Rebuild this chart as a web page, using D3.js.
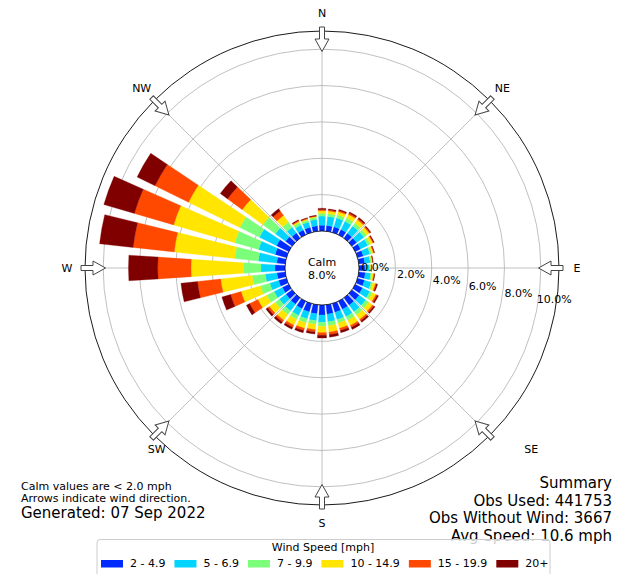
<!DOCTYPE html>
<html>
<head>
<meta charset="utf-8">
<script src="https://cdn.jsdelivr.net/npm/d3@7/dist/d3.min.js"></script>
<style>
body { margin: 0; background: #fff; }
svg { font-family: 'DejaVu Sans', sans-serif; display: block; }
</style>
</head>
<body>
<div id="chart"></div>
<script>
// wind direction bins (degrees, direction wind blows from)
var directions = [0, 10, 20, 30, 40, 50, 60, 70, 80, 90, 100, 110,
	120, 130, 140, 150, 160, 170, 180, 190, 200, 210, 220, 230,
	240, 250, 260, 270, 280, 290, 300, 310, 320, 330, 340, 350];

var speedBins = ['2 - 4.9', '5 - 6.9', '7 - 9.9', '10 - 14.9', '15 - 19.9', '20+'];

// frequency [%] per direction for each speed bin
var speed2to5 = [0.32, 0.32, 0.33, 0.33, 0.33, 0.33, 0.33, 0.33, 0.33, 0.33, 0.36, 0.40,
	0.45, 0.50, 0.50, 0.50, 0.50, 0.52, 0.55, 0.50, 0.48, 0.46, 0.44, 0.42,
	0.40, 0.45, 0.46, 0.55, 0.47, 0.65, 0.75, 0.45, 0.35, 0.30, 0.30, 0.30];
var speed5to7 = [0.50, 0.50, 0.50, 0.50, 0.50, 0.50, 0.45, 0.38, 0.30, 0.25, 0.30, 0.38,
	0.45, 0.45, 0.45, 0.45, 0.42, 0.42, 0.40, 0.38, 0.40, 0.42, 0.45, 0.45,
	0.50, 0.50, 0.64, 0.77, 1.02, 0.95, 1.05, 0.70, 0.40, 0.30, 0.30, 0.35];
var speed7to10 = [0.15, 0.15, 0.18, 0.20, 0.20, 0.18, 0.15, 0.10, 0.07, 0.05, 0.07, 0.10,
	0.15, 0.20, 0.22, 0.22, 0.20, 0.22, 0.22, 0.20, 0.22, 0.24, 0.25, 0.28,
	0.45, 0.55, 0.73, 0.97, 1.30, 1.36, 1.20, 0.85, 0.35, 0.15, 0.12, 0.12];
var speed10to15 = [0.15, 0.15, 0.18, 0.22, 0.22, 0.18, 0.15, 0.10, 0.06, 0.05, 0.10, 0.15,
	0.22, 0.25, 0.30, 0.32, 0.30, 0.35, 0.35, 0.30, 0.32, 0.35, 0.38, 0.40,
	0.55, 1.10, 1.74, 2.88, 3.35, 3.50, 3.15, 1.40, 0.45, 0.08, 0.06, 0.05];
var speed15to20 = [0.06, 0.06, 0.07, 0.08, 0.08, 0.06, 0.05, 0.04, 0.02, 0.01, 0.03, 0.06,
	0.08, 0.10, 0.10, 0.12, 0.13, 0.14, 0.15, 0.12, 0.13, 0.13, 0.13, 0.12,
	0.50, 0.60, 1.28, 1.83, 2.27, 2.25, 2.05, 1.00, 0.30, 0.04, 0.03, 0.02];
var speed20plus = [0.07, 0.05, 0.06, 0.07, 0.07, 0.05, 0.04, 0.03, 0.02, 0.01, 0.03, 0.06,
	0.08, 0.08, 0.10, 0.12, 0.12, 0.14, 0.15, 0.12, 0.13, 0.12, 0.12, 0.12,
	0.20, 0.50, 0.92, 1.61, 1.86, 1.75, 1.10, 0.50, 0.15, 0.05, 0.04, 0.04];

var calmPercent = 8.0;
var radialTicks = [0, 2, 4, 6, 8, 10];
var compassLabels = ['N', 'NE', 'E', 'SE', 'S', 'SW', 'W', 'NW'];
var compassAngles = [0, 45, 90, 135, 180, 225, 270, 315];

var width = 622;
var height = 574;
var cx = 322;
var cy = 268;
var colors = ['#002bff', '#00d4ff', '#7bff7b', '#ffe500', '#ff4900', '#800000'];
// nudges for the compass label placement (dx, dy) in px
var labelNudge = {SE: [29, 1], SW: [15, 1]};

var binArrays = [speed2to5, speed5to7, speed7to10, speed10to15, speed15to20, speed20plus];
var table = directions.map(function(d, i){
	var row = {dir: d};
	speedBins.forEach(function(b, j){ row[b] = binArrays[j][i]; });
	return row;
});

var svg = d3.select('#chart')
	.append('svg')
	.attr('width', width)
	.attr('height', height);

var r = d3.scaleLinear().domain([0, 11]).range([37, 237]);
var color = d3.scaleOrdinal().domain(speedBins).range(colors);
var rad = Math.PI / 180;

var g = svg.append('g')
	.attr('transform', 'translate(' + cx + ',' + cy + ')');

// grid circles
g.selectAll('.ring')
	.data(radialTicks.slice(1))
	.enter()
	.append('circle')
	.attr('r', function(d){ return r(d); })
	.attr('fill', 'none')
	.attr('stroke', '#b0b0b0')
	.attr('stroke-width', 0.8);

// spokes
g.selectAll('.spoke')
	.data(compassAngles)
	.enter()
	.append('line')
	.attr('x1', function(d){ return r(0) * Math.sin(d * rad); })
	.attr('y1', function(d){ return -r(0) * Math.cos(d * rad); })
	.attr('x2', function(d){ return r(11) * Math.sin(d * rad); })
	.attr('y2', function(d){ return -r(11) * Math.cos(d * rad); })
	.attr('stroke', '#b0b0b0')
	.attr('stroke-width', 0.8);

// stacked bars
var stack = d3.stack().keys(speedBins);
var series = stack(table);
var halfWidth = 3.8;

var arc = d3.arc()
	.innerRadius(function(d){ return r(d[0]); })
	.outerRadius(function(d){ return r(d[1]); })
	.startAngle(function(d){ return (d.data.dir - halfWidth) * rad; })
	.endAngle(function(d){ return (d.data.dir + halfWidth) * rad; });

g.selectAll('.layer')
	.data(series)
	.enter()
	.append('g')
	.attr('fill', function(d){ return color(d.key); })
	.selectAll('path')
	.data(function(d){ return d; })
	.enter()
	.append('path')
	.attr('d', arc)
	.attr('stroke', function(){ return d3.select(this.parentNode).attr('fill'); })
	.attr('stroke-width', 0.3);

// calm circle
g.append('circle')
	.attr('r', r(0))
	.attr('fill', '#fff')
	.attr('stroke', '#000')
	.attr('stroke-width', 0.8);

g.append('text')
	.attr('x', 0).attr('y', -2.5)
	.attr('text-anchor', 'middle')
	.style('font-size', '11px')
	.text('Calm');
g.append('text')
	.attr('x', 0).attr('y', 11)
	.attr('text-anchor', 'middle')
	.style('font-size', '11px')
	.text(calmPercent.toFixed(1) + '%');

// outer circle
g.append('circle')
	.attr('r', r(11))
	.attr('fill', 'none')
	.attr('stroke', '#000')
	.attr('stroke-width', 0.9);

// radial tick labels
g.selectAll('.rlabel')
	.data(radialTicks)
	.enter()
	.append('text')
	.attr('x', function(d){ return (r(d) + 17) * Math.cos(10 * rad); })
	.attr('y', function(d){ return (r(d) + 17) * Math.sin(10 * rad) - 10 + 4; })
	.attr('text-anchor', 'middle')
	.style('font-size', '11px')
	.text(function(d){ return d.toFixed(1) + '%'; });

// direction arrows
g.selectAll('.arrow')
	.data(compassAngles)
	.enter()
	.append('path')
	.attr('transform', function(d){ return 'rotate(' + d + ')'; })
	.attr('d', 'M-2.5,-241L2.5,-241L2.5,-229L7,-229L0,-216.5L-7,-229L-2.5,-229Z')
	.attr('fill', '#fff')
	.attr('stroke', '#444')
	.attr('stroke-width', 1);

// compass labels
g.selectAll('.clabel')
	.data(compassLabels)
	.enter()
	.append('text')
	.attr('x', function(d, i){
		var n = labelNudge[d] ? labelNudge[d][0] : 0;
		return 255 * Math.sin(compassAngles[i] * rad) + n;
	})
	.attr('y', function(d, i){
		var n = labelNudge[d] ? labelNudge[d][1] : 0;
		return -255 * Math.cos(compassAngles[i] * rad) + 4 + n;
	})
	.attr('text-anchor', 'middle')
	.style('font-size', '11px')
	.text(function(d){ return d; });

// notes
var notes = svg.append('g');
notes.append('text').attr('x', 21).attr('y', 490).style('font-size', '11px')
	.text('Calm values are < 2.0 mph');
notes.append('text').attr('x', 21).attr('y', 502).style('font-size', '11px')
	.text('Arrows indicate wind direction.');
notes.append('text').attr('x', 21).attr('y', 518).style('font-size', '15px')
	.text('Generated: 07 Sep 2022');

var summary = ['Summary', 'Obs Used: 441753', 'Obs Without Wind: 3667', 'Avg Speed: 10.6 mph'];
notes.selectAll('.summary')
	.data(summary)
	.enter()
	.append('text')
	.attr('x', 612)
	.attr('y', function(d, i){ return 488 + i * 17.5; })
	.attr('text-anchor', 'end')
	.style('font-size', '15px')
	.text(function(d){ return d; });

// legend
var legend = svg.append('g');
legend.append('rect')
	.attr('x', 97).attr('y', 539.5)
	.attr('width', 453).attr('height', 44)
	.attr('rx', 3)
	.attr('fill', '#fff')
	.attr('fill-opacity', 0.8)
	.attr('stroke', '#ccc');
legend.append('text')
	.attr('x', 323).attr('y', 551)
	.attr('text-anchor', 'middle')
	.style('font-size', '11px')
	.text('Wind Speed [mph]');

var lx = 101;
speedBins.forEach(function(b){
	legend.append('rect')
		.attr('x', lx).attr('y', 560)
		.attr('width', 22).attr('height', 7.5)
		.attr('fill', color(b));
	var t = legend.append('text')
		.attr('x', lx + 29).attr('y', 567)
		.style('font-size', '11px')
		.text(b);
	lx = lx + 29 + t.node().getComputedTextLength() + 9;
});
</script>
</body>
</html>
